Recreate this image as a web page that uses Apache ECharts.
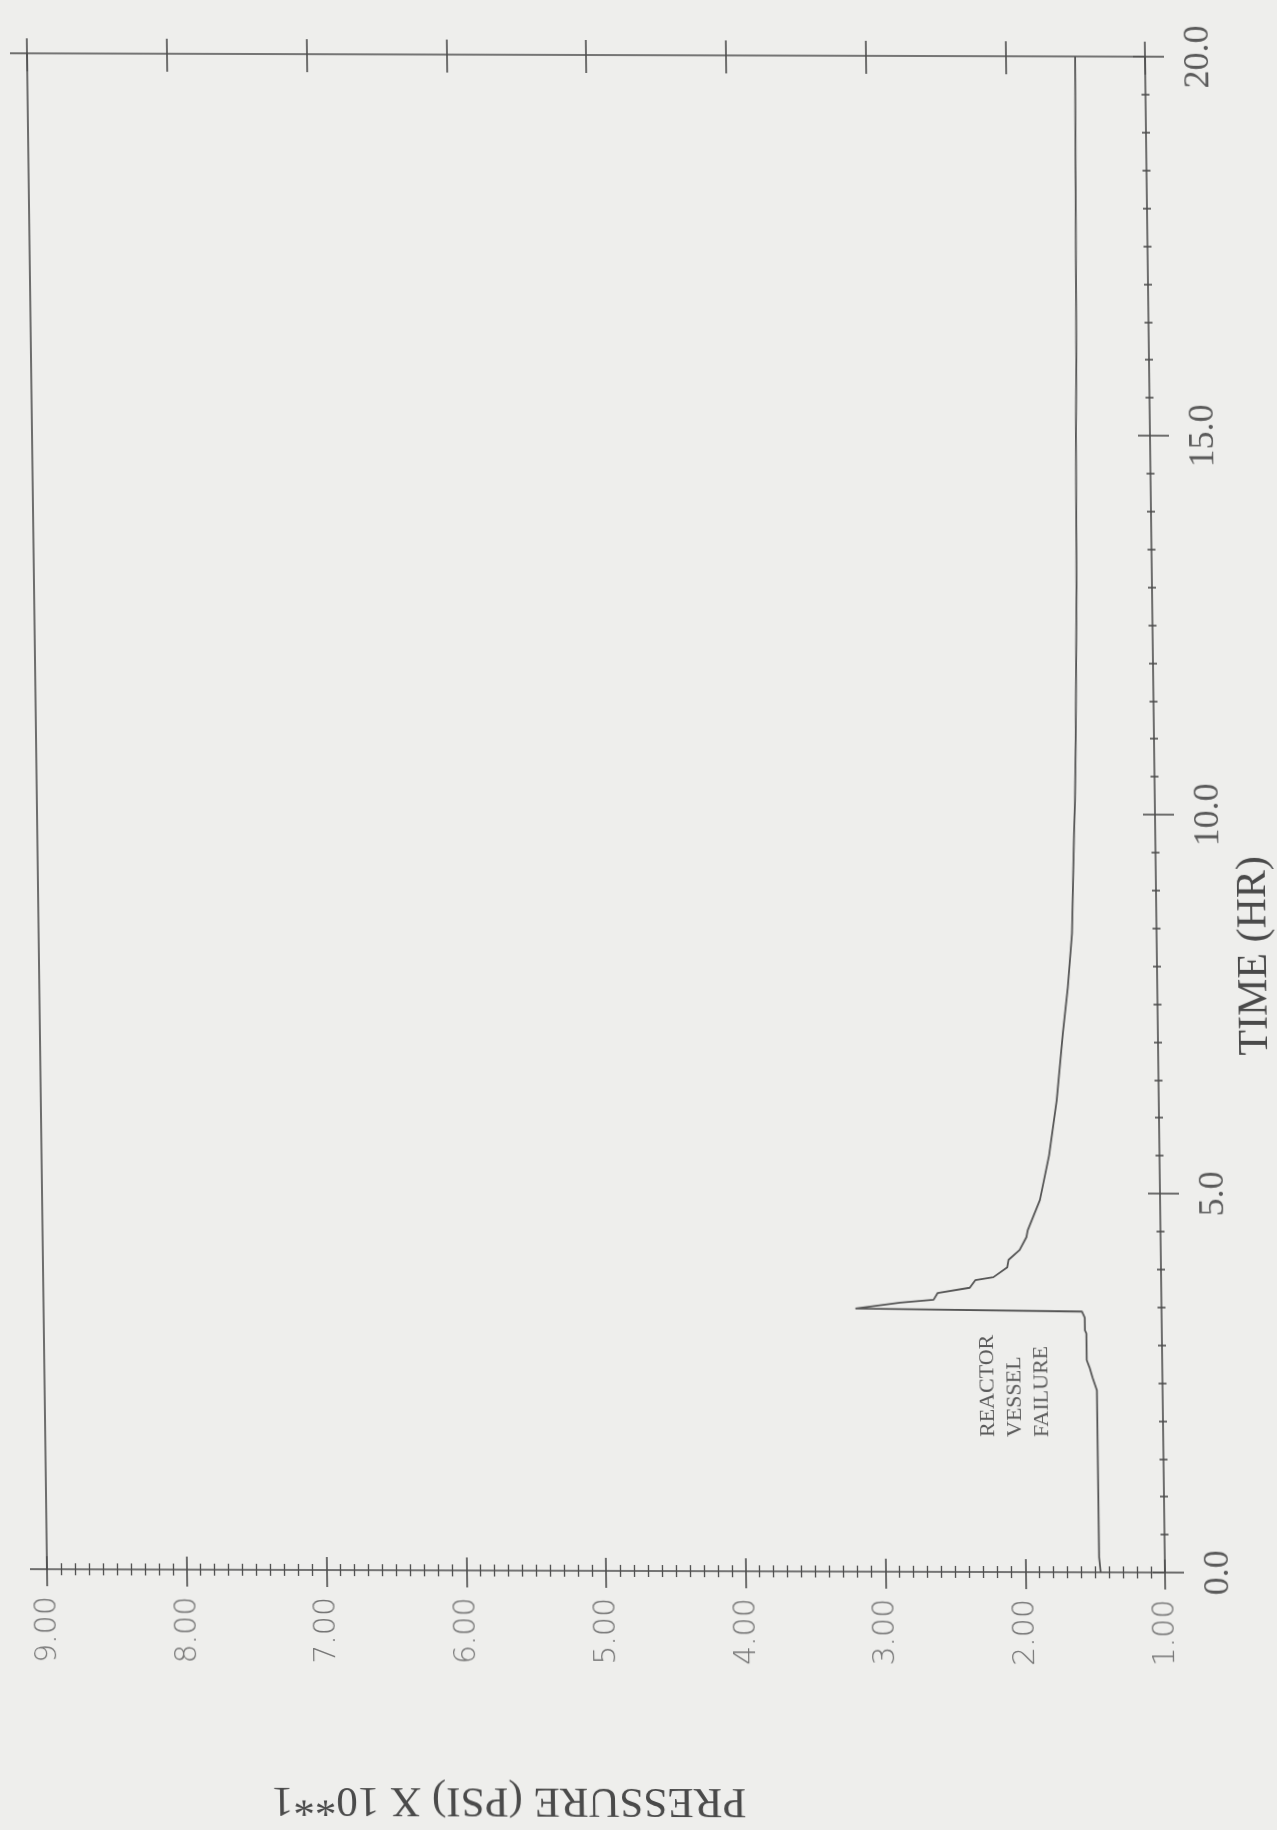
<!DOCTYPE html>
<html>
<head>
<meta charset="utf-8">
<script src="https://cdn.jsdelivr.net/npm/echarts@6/dist/echarts.min.js"></script>
<style>
  html, body { margin: 0; padding: 0; background: #eeeeec; }
  /* the plotted sheet sits slightly sheared on the page */
  #chart {
    width: 1277px;
    height: 1830px;
    transform-origin: 595.5px 813px;
    transform: matrix(1, 0.003, 0.0132, 1, 0, 0);
  }
</style>
</head>
<body>
<div id="chart"></div>
<script>
// Containment pressure history (pressure in psi x 10, time in hours)
const timeHr = [
  0, 0.2, 2.40, 2.57, 2.70, 2.80, 3.15, 3.19, 3.36, 3.44,
  3.47, 3.55, 3.59, 3.68, 3.75, 3.85, 3.89, 4.02, 4.12, 4.25,
  4.42, 4.51, 4.91, 5.5, 6.23, 7.11, 7.72, 8.43, 9.09, 9.75,
  10.18, 11, 12, 13, 14, 15, 16, 17, 18, 19, 20
];
const pressure = [
  1.46, 1.47, 1.47, 1.50, 1.52, 1.54, 1.54, 1.55, 1.55, 1.57,
  3.19, 2.87, 2.63, 2.60, 2.37, 2.33, 2.20, 2.10, 2.09, 2.01,
  1.96, 1.95, 1.86, 1.79, 1.73, 1.68, 1.64, 1.605, 1.593, 1.581,
  1.571, 1.56, 1.55, 1.54, 1.535, 1.53, 1.52, 1.515, 1.51, 1.505, 1.50
];
const pressureTicks = ['1.00', '2.00', '3.00', '4.00', '5.00', '6.00', '7.00', '8.00', '9.00'];
const timeTicks = ['0.0', '5.0', '10.0', '15.0', '20.0'];
const timeTitle = 'TIME (HR)';
const pressureTitle = 'PRESSURE (PSI) X 10**1';
const noteLines = ['REACTOR', 'VESSEL', 'FAILURE'];

const INK = '#4d4d4d';
const SERIF = '"Liberation Serif", "DejaVu Serif", serif';
const SANS = '"DejaVu Sans", "Liberation Sans", sans-serif';

const chart = echarts.init(document.getElementById('chart'), null, { renderer: 'canvas' });

const lineStyle = { color: INK, width: 1.6 };

// pressure axis (drawn along the bottom and repeated along the top)
function pressureAxis(position, inside, tickLen, minorLen, showLine, showLabel) {
  return {
    type: 'value', position: position, min: 1, max: 9, interval: 1, inverse: true,
    axisLine: { show: showLine, onZero: false, lineStyle: lineStyle },
    axisTick: { show: tickLen > 0, inside: inside, length: tickLen, lineStyle: lineStyle },
    minorTick: { show: minorLen > 0, splitNumber: 10, length: minorLen, lineStyle: { color: INK, width: 1.3 } },
    splitLine: { show: false },
    axisLabel: {
      show: showLabel, rotate: 90, margin: 27,
      formatter: v => pressureTicks[Math.round(v) - 1],
      fontFamily: SANS, fontSize: 30, fontWeight: 200, color: '#757575'
    }
  };
}

// time axis (drawn along the right edge and repeated along the left)
function timeAxis(position, inside, tickLen, minorLen, showLine, showLabel, tickValues) {
  const tick = { show: tickLen > 0, inside: inside, length: tickLen, lineStyle: lineStyle };
  if (tickValues) tick.customValues = tickValues;
  return {
    type: 'value', position: position, min: 0, max: 20, interval: 5,
    axisLine: { show: showLine, onZero: false, lineStyle: lineStyle },
    axisTick: tick,
    minorTick: { show: minorLen > 0, splitNumber: 10, length: minorLen, lineStyle: { color: INK, width: 1.6 } },
    splitLine: { show: false },
    axisLabel: {
      show: showLabel, rotate: 90, margin: 36,
      formatter: v => timeTicks[Math.round(v / 5)],
      fontFamily: SERIF, fontSize: 36, color: '#5a5a5a'
    }
  };
}

const option = {
  animation: false,
  backgroundColor: 'transparent',
  grid: { left: 37, top: 55, width: 1118, height: 1516, containLabel: false },
  xAxis: [
    pressureAxis('bottom', false, 17, 6, true, true),
    pressureAxis('bottom', true, 13, 6, false, false),
    pressureAxis('top', false, 15, 0, true, false),
    pressureAxis('top', true, 18, 0, false, false)
  ],
  yAxis: [
    timeAxis('right', false, 19, 4, true, true),
    timeAxis('right', true, 12, 4, false, false),
    timeAxis('left', false, 17, 0, true, false, [0, 20])
  ],
  series: [{
    type: 'line',
    xAxisIndex: 0,
    yAxisIndex: 0,
    showSymbol: false,
    symbol: 'none',
    lineStyle: { color: '#555555', width: 1.8 },
    data: timeHr.map((t, i) => [pressure[i], t]),
    z: 5
  }],
  graphic: [
    {
      type: 'text', x: 1253, y: 954, rotation: Math.PI / 2,
      style: { text: timeTitle, font: '42px ' + SERIF, fill: '#4a4a4a', textAlign: 'center', textVerticalAlign: 'middle' }
    },
    {
      type: 'text', x: 496, y: 1800, rotation: Math.PI,
      style: { text: pressureTitle, font: '43px ' + SERIF, fill: '#4a4a4a', textAlign: 'center', textVerticalAlign: 'middle' }
    }
  ].concat(noteLines.map((s, i) => ({
    type: 'text', x: 980.5 + i * 27, y: 1436, rotation: Math.PI / 2,
    style: { text: s, font: '22px ' + SERIF, fill: '#5a5a5a', textAlign: 'left', textVerticalAlign: 'middle' }
  })))
};

chart.setOption(option);
</script>
</body>
</html>
